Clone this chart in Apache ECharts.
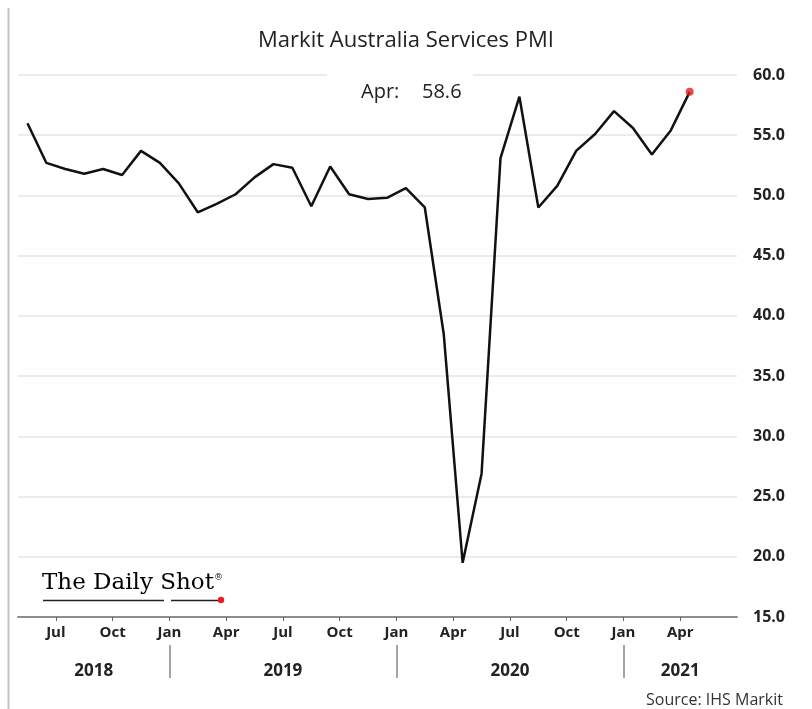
<!DOCTYPE html>
<html>
<head>
<meta charset="utf-8">
<script src="https://cdn.jsdelivr.net/npm/echarts@6/dist/echarts.min.js"></script>
<style>
html,body{margin:0;padding:0;background:#fff;}
#chart{width:812px;height:709px;}
</style>
</head>
<body>
<div id="chart"></div>
<script>
// ---- data ----
const months = ['2018-05','2018-06','2018-07','2018-08','2018-09','2018-10','2018-11','2018-12',
  '2019-01','2019-02','2019-03','2019-04','2019-05','2019-06','2019-07','2019-08','2019-09','2019-10','2019-11','2019-12',
  '2020-01','2020-02','2020-03','2020-04','2020-05','2020-06','2020-07','2020-08','2020-09','2020-10','2020-11','2020-12',
  '2021-01','2021-02','2021-03','2021-04'];
const pmi = [56.0,52.7,52.2,51.8,52.2,51.7,53.7,52.7,
  51.0,48.6,49.3,50.1,51.5,52.6,52.3,49.1,52.4,50.1,49.7,49.8,
  50.6,49.0,38.5,19.5,26.9,53.1,58.2,49.0,50.8,53.7,55.1,57.0,
  55.6,53.4,55.4,58.6];
const monthNames = ['Jan','Feb','Mar','Apr','May','Jun','Jul','Aug','Sep','Oct','Nov','Dec'];
const years = ['2018','2019','2020','2021'];
const yTicks = [15,20,25,30,35,40,45,50,55,60];

// ---- derived ----
const xMin = 0, xMax = months.length + 2;
const monthIdx = months.map(m => parseInt(m.split('-')[1],10) - 1);
const tickPos = [];
monthIdx.forEach((m,i)=>{ if (m % 3 === 0) tickPos.push(i); });
const tickLabel = {};
tickPos.forEach(i => tickLabel[i] = monthNames[monthIdx[i]]);
const yearStarts = [];
months.forEach((m,i)=>{ if (monthIdx[i] === 0) yearStarts.push(i); });
const bounds = [xMin].concat(yearStarts, [xMax]);
const yearPos = [];
const yearLabel = {};
years.forEach((y,k)=>{ const p = (bounds[k] + bounds[k+1]) / 2; yearPos.push(p); yearLabel[p] = y; });
const lineData = pmi.map((v,i)=>[i + 0.5, v]);
const last = lineData[lineData.length - 1];
const lastMonth = monthNames[monthIdx[monthIdx.length - 1]];

const chart = echarts.init(document.getElementById('chart'), null, {renderer:'canvas'});
const FONT = '"Open Sans", sans-serif';
const option = {
  animation: false,
  backgroundColor: '#fff',
  title: {
    text: 'Markit Australia Services PMI',
    left: 'center', top: 25,
    textStyle: {fontFamily: FONT, fontSize: 22, fontWeight: 'normal', color: '#222'}
  },
  grid: {left: 18, right: 75, top: 75, bottom: 92},
  xAxis: [{
    type: 'value', min: xMin, max: xMax,
    axisLine: {show: true, lineStyle: {color: '#8c8c8c', width: 2}},
    axisTick: {show: true, customValues: tickPos, length: 4, inside: false, lineStyle: {color: '#666', width: 1}},
    axisLabel: {customValues: tickPos, formatter: v => tickLabel[v] || '', margin: 8,
      fontFamily: FONT, fontSize: 15, fontWeight: 'bold', color: '#222'},
    splitLine: {show: false}
  }, {
    type: 'value', min: xMin, max: xMax, position: 'bottom', offset: 28,
    axisLine: {show: false},
    axisTick: {show: true, customValues: yearStarts, length: 33, lineStyle: {color: '#888', width: 1.5}},
    axisLabel: {customValues: yearPos, formatter: v => yearLabel[v] || '', margin: 18,
      fontFamily: FONT, fontSize: 17, fontWeight: 'bold', color: '#222'},
    splitLine: {show: false}
  }],
  yAxis: {
    type: 'value', position: 'right', min: yTicks[0], max: yTicks[yTicks.length-1], interval: 5,
    axisLine: {show: false}, axisTick: {show: false},
    axisLabel: {formatter: v => v.toFixed(1), margin: 16, fontFamily: FONT, fontSize: 16, fontWeight: 'bold', color: '#222'},
    splitLine: {show: true, lineStyle: {color: '#e4e4e4', width: 1.5}}
  },
  series: [{
    type: 'line', xAxisIndex: 0, data: lineData, symbol: 'none',
    lineStyle: {color: '#111', width: 2.5}, z: 3
  }, {
    type: 'scatter', xAxisIndex: 0, data: [last], symbol: 'circle', symbolSize: 8,
    itemStyle: {color: '#e3211c'}, z: 4
  }],
  graphic: [
    {type: 'line', shape: {x1: 8.5, y1: 8, x2: 8.5, y2: 709}, style: {stroke: '#c4c4c4', lineWidth: 2}},
    {type: 'rect', shape: {x: 327, y: 68, width: 146, height: 14}, style: {fill: '#fff'}, z: 50},
    {type: 'text', x: 361, y: 92, z: 51, style: {text: lastMonth + ':', font: '20px "Open Sans"', fill: '#222', textVerticalAlign: 'middle'}},
    {type: 'text', x: 422, y: 92, z: 51, style: {text: last[1].toFixed(1), font: '20px "Open Sans"', fill: '#222', textVerticalAlign: 'middle'}},
    {type: 'text', x: 42, y: 595, z: 51, style: {text: 'The Daily Shot', font: '23px "DejaVu Serif", serif', fill: '#000', textVerticalAlign: 'bottom'}},
    {type: 'text', x: 214, y: 582, z: 51, style: {text: '®', font: '9px "DejaVu Serif", serif', fill: '#111', textVerticalAlign: 'bottom'}},
    {type: 'line', shape: {x1: 43, y1: 600.5, x2: 164, y2: 600.5}, style: {stroke: '#222', lineWidth: 1.5}, z: 51},
    {type: 'line', shape: {x1: 171, y1: 600.5, x2: 220, y2: 600.5}, style: {stroke: '#222', lineWidth: 1.5}, z: 51},
    {type: 'circle', shape: {cx: 221, cy: 600, r: 3.2}, style: {fill: '#e3211c'}, z: 52},
    {type: 'text', right: 29, bottom: 1, z: 51, style: {text: 'Source: IHS Markit', font: '16px "Open Sans"', fill: '#333'}}
  ]
};
chart.setOption(option);
</script>
</body>
</html>
